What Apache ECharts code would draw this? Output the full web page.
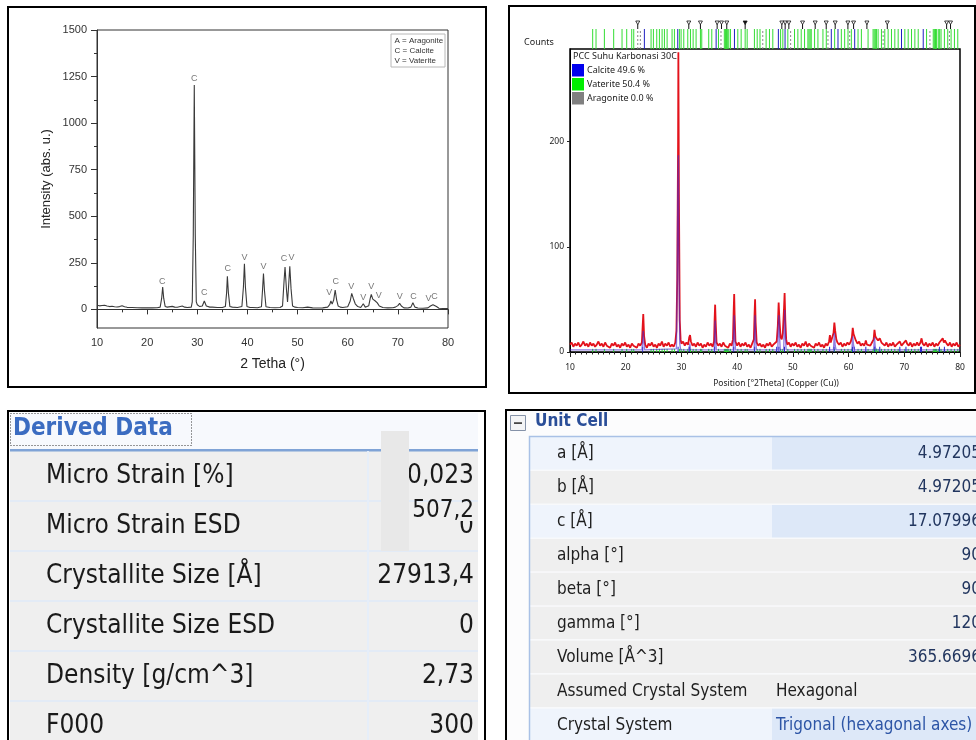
<!DOCTYPE html>
<html>
<head>
<meta charset="utf-8">
<script src="https://cdn.jsdelivr.net/npm/echarts@6/dist/echarts.min.js"></script>
<style>
html,body{margin:0;padding:0;background:#fff;}
#c{width:976px;height:740px;}
</style>
</head>
<body>
<div id="c"></div>
<script>
// ---------- DATA ----------
// Top-left XRD pattern: [2theta, intensity]
const tlIntensity = [
[10,22],[10.5,19],[11,21],[11.5,22],[12,18],[12.5,15],[13,17],[13.5,14],[14,13],[14.5,15],[15,19],[15.5,14],[16,11],[17,10],[18,9],[19,8],[20,8],[21,8],[22,9],[22.6,12],[22.9,60],[23.1,120],[23.3,60],[23.6,15],[24,12],[25,16],[25.5,12],[26,11],[27,18],[27.5,12],[28,10],[28.8,12],[29.0,40],[29.2,400],[29.4,1205],[29.6,400],[29.8,40],[30,25],[30.5,15],[31,18],[31.4,45],[31.8,18],[32.5,12],[33,12],[34,10],[35,10],[35.6,15],[35.85,90],[36.0,178],[36.2,90],[36.5,15],[37,12],[38,10],[38.9,15],[39.2,120],[39.4,245],[39.6,120],[39.9,16],[40.5,10],[41,10],[42,9],[42.8,14],[43.0,100],[43.2,193],[43.4,100],[43.7,14],[44.5,10],[45.5,9],[46.5,10],[47.0,18],[47.3,150],[47.5,227],[47.8,100],[48.0,40],[48.2,120],[48.45,232],[48.7,110],[49.0,18],[49.5,12],[50,10],[51,9],[52,12],[53,8],[54,7],[55,8],[56,12],[56.4,25],[56.65,45],[56.9,28],[57.2,50],[57.5,104],[57.8,50],[58.1,18],[58.5,12],[59,10],[60,14],[60.5,45],[60.8,86],[61.1,60],[61.5,30],[62,15],[62.6,10],[63.1,30],[63.5,12],[64.2,20],[64.5,60],[64.7,80],[65.0,55],[65.5,45],[65.9,35],[66.3,18],[67,10],[68,8],[69,9],[69.5,12],[70.0,20],[70.35,32],[70.7,18],[71.2,8],[72,7],[72.6,12],[73.0,36],[73.4,12],[74,7],[75,6],[76,8],[76.5,18],[77.0,25],[77.3,32],[77.7,15],[78.2,6],[79,5],[80,5]
];
// Peak phase labels: [2theta, intensity, phase]
const tlPeakLabels = [
[23.0,152,'C'],[29.4,1238,'C'],[31.4,89,'C'],[36.1,218,'C'],[39.4,280,'V'],[43.2,232,'V'],[47.3,271,'C'],[48.8,280,'V'],[56.3,89,'V'],[57.6,152,'C'],[60.7,125,'V'],[63.1,66,'V'],[64.7,125,'V'],[66.2,75,'V'],[70.4,71,'V'],[73.1,71,'C'],[76.1,57,'V'],[77.3,71,'C']
];
const tlXTicks = [10,20,30,40,50,60,70,80];
const tlYTicks = [0,250,500,750,1000,1250,1500];
const tlYMinor = [125,375,625,875,1125,1375];
const tlLegendLines = ['A = Aragonite','C = Calcite','V = Vaterite'];

// Top-right observed (red) pattern: [2theta, counts]
const trObserved = [
[10,7],[10.3,9],[10.6,5],[10.9,8],[11.2,6],[11.5,9],[11.8,5],[12.1,7],[12.4,10],[12.7,6],[13.0,8],[13.3,5],[13.6,9],[13.9,6],[14.2,8],[14.5,5],[14.8,7],[15.1,10],[15.4,6],[15.7,8],[16.0,5],[16.3,9],[16.6,6],[16.9,7],[17.2,4],[17.5,8],[17.8,6],[18.1,9],[18.4,5],[18.7,7],[19.0,4],[19.3,8],[19.6,6],[19.9,9],[20.2,5],[20.5,7],[20.8,4],[21.1,8],[21.4,6],[21.7,7],[22.0,4],[22.3,8],[22.6,6],[22.9,9],[23.0,20],[23.15,36],[23.3,15],[23.5,7],[23.8,4],[24.1,8],[24.4,6],[24.7,9],[25.0,5],[25.3,7],[25.6,4],[25.9,8],[26.2,6],[26.5,10],[26.8,5],[27.1,8],[27.4,6],[27.7,9],[28.0,5],[28.3,7],[28.6,5],[28.9,9],[29.1,20],[29.25,70],[29.4,200],[29.45,285],[29.55,150],[29.7,30],[29.85,12],[30.0,8],[30.3,10],[30.6,6],[30.9,9],[31.2,7],[31.4,14],[31.55,16],[31.7,10],[32.0,6],[32.3,8],[32.6,5],[32.9,9],[33.2,6],[33.5,8],[33.8,4],[34.1,7],[34.4,5],[34.7,9],[35.0,6],[35.3,8],[35.6,5],[35.85,10],[35.95,30],[36.05,45],[36.15,28],[36.3,9],[36.6,6],[36.9,8],[37.2,5],[37.5,9],[37.8,6],[38.1,7],[38.4,4],[38.7,8],[39.0,6],[39.25,12],[39.38,40],[39.47,55],[39.55,35],[39.7,10],[40.0,6],[40.3,9],[40.6,5],[40.9,8],[41.2,6],[41.5,9],[41.8,5],[42.1,7],[42.4,4],[42.7,8],[43.0,12],[43.12,35],[43.22,50],[43.32,28],[43.5,9],[43.8,6],[44.1,8],[44.4,5],[44.7,7],[45.0,4],[45.3,8],[45.6,6],[45.9,9],[46.2,5],[46.5,7],[46.8,6],[47.1,10],[47.3,25],[47.45,47],[47.6,30],[47.8,14],[48.0,12],[48.2,18],[48.4,40],[48.52,56],[48.65,30],[48.8,12],[49.0,7],[49.3,9],[49.6,5],[49.9,8],[50.2,6],[50.5,9],[50.8,5],[51.1,7],[51.4,4],[51.7,8],[52.0,6],[52.3,10],[52.6,5],[52.9,8],[53.2,6],[53.5,7],[53.8,4],[54.1,8],[54.4,6],[54.7,9],[55.0,5],[55.3,7],[55.6,4],[55.9,8],[56.2,6],[56.5,10],[56.65,16],[56.8,9],[57.1,10],[57.3,18],[57.45,28],[57.6,20],[57.8,12],[58.0,9],[58.3,7],[58.6,9],[58.9,5],[59.2,8],[59.5,6],[59.8,9],[60.1,7],[60.4,10],[60.6,14],[60.75,23],[60.9,17],[61.1,14],[61.3,11],[61.6,8],[61.9,10],[62.2,6],[62.5,8],[62.8,6],[63.0,9],[63.1,11],[63.3,7],[63.6,8],[63.9,6],[64.2,9],[64.5,12],[64.65,21],[64.8,15],[65.0,13],[65.3,11],[65.6,13],[65.9,9],[66.2,8],[66.5,6],[66.8,9],[67.1,5],[67.4,8],[67.7,6],[68.0,9],[68.3,5],[68.6,7],[68.9,6],[69.2,10],[69.5,6],[69.8,8],[70.1,7],[70.3,11],[70.5,8],[70.8,6],[71.1,9],[71.4,5],[71.7,8],[72.0,6],[72.3,9],[72.6,6],[72.9,9],[73.1,13],[73.3,8],[73.6,6],[73.9,9],[74.2,5],[74.5,8],[74.8,6],[75.1,9],[75.4,5],[75.7,8],[76.0,6],[76.3,9],[76.6,8],[76.9,13],[77.1,9],[77.3,11],[77.6,8],[77.9,6],[78.2,9],[78.5,5],[78.8,8],[79.1,6],[79.4,9],[79.7,5],[80,7]
];
// Top-right calcite profile (blue)
const trCalcite = [
[10,2],[22.9,2],[23.05,10],[23.15,20],[23.25,10],[23.4,2],[29.1,3],[29.25,68],[29.35,150],[29.45,187],[29.55,90],[29.7,8],[29.85,2],[31.35,2],[31.5,8],[31.65,2],[35.9,2],[36.0,20],[36.05,30],[36.12,18],[36.25,2],[39.3,2],[39.4,22],[39.47,35],[39.55,18],[39.7,2],[43.05,2],[43.15,22],[43.22,35],[43.3,15],[43.45,2],[47.3,2],[47.42,30],[47.5,35],[47.6,15],[47.75,2],[48.35,2],[48.48,28],[48.55,40],[48.65,15],[48.8,2],[57.3,2],[57.45,18],[57.6,6],[57.75,2],[60.6,2],[60.75,15],[60.9,6],[61.1,2],[64.5,2],[64.65,14],[64.8,4],[65.0,2],[80,2]
];
const trXTicks = [10,20,30,40,50,60,70,80];
const trYTicks = [0,100,200];
// Reference stick positions (2theta)
const vateriteRef = [14.07,14.67,16.17,17.84,19.34,20.18,21.08,21.44,24.55,24.97,25.57,26.05,26.53,26.95,27.43,28.32,28.74,29.64,29.94,30.42,31.14,31.62,32.1,32.63,33.41,33.65,34.9,35.45,36.65,37.7,37.9,38.1,38.3,38.5,38.8,40.12,40.72,41.44,41.8,43.1,43.6,44.1,45.2,45.8,46.4,47.8,48.2,49.1,50.3,50.9,51.5,52.1,52.7,52.9,53.1,53.3,53.9,54.5,55.4,56.0,57.5,58.7,59.3,59.9,60.5,61.7,62.3,63.5,64.4,64.6,64.8,65.0,65.3,65.9,66.5,67.1,67.7,68.3,68.9,70.1,70.7,71.3,71.9,72.5,74.0,75.2,75.4,75.6,75.8,76.1,76.35,76.6,77.2,77.8,78.4,79.0,79.6];
const calciteRef = [23.35,29.34,36.23,39.52,47.4,48.6,56.9,58.1,61.1,69.5,73.4];
const aragoniteRef = [22.16,22.63,37.1,44.6,49.6,56.3,60.2,66.2,74.6,78.1];
const peakMarks = [22.16,31.32,33.41,36.41,37.19,38.14,41.44,48.02,48.62,49.28,51.74,54.01,55.99,57.6,59.88,60.9,63.29,66.95,77.6,78.3];
const calciteBase = [23.06,29.4,31.4,35.97,39.4,43.15,47.1,47.5,48.5,56.6,57.4,60.7,61.0,63.1,64.7,65.6,69.2,70.3,72.9,73.1,76.3,77.2];
const trLegendTitle = 'PCC Suhu Karbonasi 30C';
const trLegendItems = [['Calcite 49.6 %','#0000ee'],['Vaterite 50.4 %','#00ee00'],['Aragonite 0.0 %','#808080']];

// Tables
const derivedTitle = 'Derived Data';
const derivedLabels = ['Micro Strain [%]','Micro Strain ESD','Crystallite Size [Å]','Crystallite Size ESD','Density [g/cm^3]','F000'];
const derivedValues = ['0,023','0','27913,4','0','2,73','300'];
const derivedOverlay = '507,2';
const unitTitle = 'Unit Cell';
const unitLabels = ['a [Å]','b [Å]','c [Å]','alpha [°]','beta [°]','gamma [°]','Volume [Å^3]','Assumed Crystal System','Crystal System'];
const unitValues = ['4.97205','4.97205','17.07996','90','90','120','365.6696','Hexagonal','Trigonal (hexagonal axes)'];

// ---------- CHART ----------
const chart = echarts.init(document.getElementById('c'), null, {renderer:'canvas'});
const LS = 'Liberation Sans, Arial, sans-serif';
const NS = '"Noto Sans", "DejaVu Sans", sans-serif';
const TF = '"DejaVu Sans Condensed", "Liberation Sans Narrow", "DejaVu Sans", sans-serif';
const plain = v => String(v);

function sticks(xs, xi, yi, y0, y1, color, width, dash, z) {
  return {
    type:'custom', xAxisIndex:xi, yAxisIndex:yi, z: z||3, silent:true,
    data: xs.map(v=>[v]),
    renderItem: function(params, api){
      const a = api.coord([api.value(0), y0]);
      const b = api.coord([api.value(0), y1]);
      return {type:'line', shape:{x1:a[0],y1:a[1],x2:b[0],y2:b[1]},
        style:{stroke:color, lineWidth:width, lineDash:dash||null}};
    }
  };
}
function markers(xs, xi, yi, y0, y1) {
  return {
    type:'custom', xAxisIndex:xi, yAxisIndex:yi, z:4, silent:true,
    data: xs.map(v=>[v]),
    renderItem: function(params, api){
      const a = api.coord([api.value(0), y0]);
      const b = api.coord([api.value(0), y1]);
      const filled = params.dataIndex === 6;
      return {type:'group', children:[
        {type:'line', shape:{x1:a[0],y1:a[1],x2:b[0],y2:b[1]}, style:{stroke:'#111', lineWidth:1}},
        {type:'polygon', shape:{points:[[b[0]-2,b[1]-3],[b[0]+2,b[1]-3],[b[0],b[1]+0.5]]},
          style:{stroke:'#111', fill: filled ? '#111' : '#fff', lineWidth:0.8}}
      ]};
    }
  };
}

const G = [];
function rect(x,y,w,h,fill,extra){ G.push(Object.assign({type:'rect', shape:{x:x,y:y,width:w,height:h}, style:{fill:fill}}, extra||{})); }
function text(x,y,t,font,fill,align,z){ G.push({type:'text', x:x, y:y, z:z||10, style:{text:t, font:font, fill:fill, textAlign:align||'left', align:align||'left', textVerticalAlign:'middle', verticalAlign:'middle'}}); }

// top-left legend box
rect(391,34,54,33,'#fff',{z:5, style:{fill:'#fff', stroke:'#b8b8b8', lineWidth:1}});
tlLegendLines.forEach((t,i)=>text(394.5, 40.5+i*10, t, '8px '+LS, '#333','left',6));

// top-right legend / labels
text(524, 42, 'Counts', '9px '+NS, '#222');
text(573, 56, trLegendTitle, '9px '+NS, '#222');
trLegendItems.forEach((it,i)=>{
  rect(572, 64+i*14, 12, 12.5, it[1], {z:6});
  text(587, 70.5+i*14, it[0], '9px '+NS, '#222','left',6);
});

// panel borders (top)
rect(8,7,478,380,'none',{z:50, style:{fill:'none', stroke:'#000', lineWidth:2}});
rect(509,6,466,387,'none',{z:50, style:{fill:'none', stroke:'#000', lineWidth:2}});

// ---- Derived Data table (bottom-left) ----
rect(9,412,476,330,'#fff',{z:1});
rect(10,413,468,37,'#f7f9fd',{z:2});
rect(10,449,468,2.5,'#7fa3d6',{z:3});
derivedLabels.forEach((lab,i)=>{
  const y0 = 451 + i*50;
  rect(10, y0, 468, 50, '#efefef', {z:2});
  if (i>0) rect(10, y0-1, 468, 2, '#e3ebf6', {z:3});
  text(46, y0+25.5, lab, '26px '+TF, '#1a1a1a','left',10);
  text(474, y0+25.5, derivedValues[i], '26px '+TF, '#1a1a1a','right',10);
});
rect(367,451,2,290,'#e6eef9',{z:3});
rect(412,502,64,19,'#efefef',{z:11});
text(474, 511, derivedOverlay, '24px '+TF, '#1a1a1a','right',12);
rect(381,431,28,120,'#e8e8e8',{z:13});
rect(10.5,413.5,181,32,'none',{z:14, style:{fill:'none', stroke:'#333', lineWidth:1, lineDash:[1,2]}});
text(13, 429, derivedTitle, 'bold 24px '+TF, '#3b6cc1','left',14);
rect(8,411,477,340,'none',{z:50, style:{fill:'none', stroke:'#000', lineWidth:2}});

// ---- Unit Cell table (bottom-right) ----
rect(507,411,480,330,'#fcfcfd',{z:1});
rect(510.5,415.5,15,15,'#f3f4f6',{z:3, style:{fill:'#f3f4f6', stroke:'#8592a8', lineWidth:1}});
rect(514,422.3,8,1.6,'#333',{z:4});
text(535, 422, unitTitle, 'bold 17px '+TF, '#2a4e98','left',4);
const sel = [0,2,8];
unitLabels.forEach((lab,i)=>{
  const y0 = 437 + i*33.9;
  const isSel = sel.indexOf(i) >= 0;
  rect(530, y0, 242, 33.9, isSel ? '#eff4fc' : '#efefef', {z:2});
  rect(772, y0, 220, 33.9, isSel ? '#dde8f8' : '#efefef', {z:2});
  rect(530, y0+32.6, 462, 1.5, '#f8f9fb', {z:3});
  text(557, y0+17, lab, '17px '+TF, '#1e1e1e','left',5);
  const v = unitValues[i];
  if (i < 7) text(981, y0+17, v, '17px '+TF, '#22365f','right',5);
  else text(776, y0+17, v, '17px '+TF, i===8 ? '#2d55a6' : '#1e1e1e','left',5);
});
rect(529.5,436.5,470,320,'none',{z:6, style:{fill:'none', stroke:'#a9c1e6', lineWidth:1.5}});
rect(506,410,490,350,'none',{z:50, style:{fill:'none', stroke:'#000', lineWidth:2}});

const option = {
  animation:false,
  backgroundColor:'#fff',
  grid:[
    {left:97, top:30, width:351, height:298, show:true, borderColor:'#333', borderWidth:1},
    {left:570, top:49, width:390, height:303, show:true, borderColor:'#000', borderWidth:1.5},
    {left:570, top:18, width:390, height:31, show:false}
  ],
  xAxis:[
    {type:'value', gridIndex:0, min:10, max:80, interval:10,
     axisLine:{lineStyle:{color:'#333'}}, axisTick:{length:5, lineStyle:{color:'#333'}},
     minorTick:{show:true, splitNumber:2, length:3, lineStyle:{color:'#333'}},
     axisLabel:{fontSize:11, color:'#333', fontFamily:LS, margin:9, formatter:plain},
     splitLine:{show:false},
     name:'2 Tetha (°)', nameLocation:'middle', nameGap:29, nameTextStyle:{fontSize:14, color:'#222', fontFamily:LS}},
    {type:'value', gridIndex:1, min:10, max:80, interval:10,
     axisLine:{lineStyle:{color:'#000'}}, axisTick:{length:5, lineStyle:{color:'#222'}},
     minorTick:{show:true, splitNumber:10, length:2.5, lineStyle:{color:'#222'}},
     axisLabel:{fontSize:8.5, color:'#222', fontFamily:NS, margin:11, formatter:plain},
     splitLine:{show:false},
     name:'Position [°2Theta] (Copper (Cu))', nameLocation:'middle', nameGap:27,
     nameTextStyle:{fontSize:8.5, color:'#222', fontFamily:NS, padding:[0,0,0,22]}},
    {type:'value', gridIndex:2, min:10, max:80, show:false}
  ],
  yAxis:[
    {type:'value', gridIndex:0, min:-100, max:1500, position:'left',
     axisLine:{show:true, lineStyle:{color:'#333'}},
     axisTick:{show:true, length:6, customValues:tlYTicks, lineStyle:{color:'#333'}},
     axisLabel:{fontSize:11, color:'#333', fontFamily:LS, margin:10, customValues:tlYTicks, formatter:plain},
     splitLine:{show:false},
     name:'Intensity (abs. u.)', nameLocation:'middle', nameGap:44, nameTextStyle:{fontSize:13, color:'#222', fontFamily:LS}},
    {type:'value', gridIndex:0, min:-100, max:1500, position:'left', offset:0,
     axisLine:{show:false}, axisLabel:{show:false}, splitLine:{show:false},
     axisTick:{show:true, length:3, customValues:tlYMinor, lineStyle:{color:'#333'}}},
    {type:'value', gridIndex:1, min:0, max:288, position:'left',
     axisLine:{show:true, lineStyle:{color:'#000'}},
     axisTick:{length:3, customValues:trYTicks, lineStyle:{color:'#222'}},
     axisLabel:{fontSize:8.5, color:'#222', fontFamily:NS, margin:6, customValues:trYTicks, formatter:plain},
     splitLine:{show:false}},
    {type:'value', gridIndex:2, min:0, max:31, show:false}
  ],
  graphic: G,
  series:[
    {type:'line', xAxisIndex:0, yAxisIndex:0, data:tlIntensity, showSymbol:false, symbol:'none',
     lineStyle:{color:'#3a3a3a', width:1.1}, z:3},
    {type:'scatter', xAxisIndex:0, yAxisIndex:0, data:tlPeakLabels, symbolSize:0, z:4,
     label:{show:true, position:'inside', formatter:p=>p.value[2], fontSize:9, color:'#555', fontFamily:LS}},
    sticks(vateriteRef, 1, 2, 0, 3, '#22dd22', 1, null, 2),
    sticks(calciteBase, 1, 2, 0, 5, '#2222cc', 1, null, 2),
    {type:'line', xAxisIndex:1, yAxisIndex:2, data:trObserved, showSymbol:false, symbol:'none',
     lineStyle:{color:'#e3121b', width:1.8}, z:3},
    {type:'line', xAxisIndex:1, yAxisIndex:2, data:trCalcite, showSymbol:false, symbol:'none',
     lineStyle:{color:'#4a2ad0', width:1.4, opacity:0.6}, z:4},
    sticks(vateriteRef, 2, 3, 0, 20, '#33dd33', 1, null, 3),
    sticks(aragoniteRef, 2, 3, 0, 20, '#888888', 1, [2,2], 3),
    sticks(calciteRef, 2, 3, 0, 20, '#2020c0', 1, null, 3),
    markers(peakMarks, 2, 3, 20, 25)
  ]
};
chart.setOption(option);
</script>
</body>
</html>
